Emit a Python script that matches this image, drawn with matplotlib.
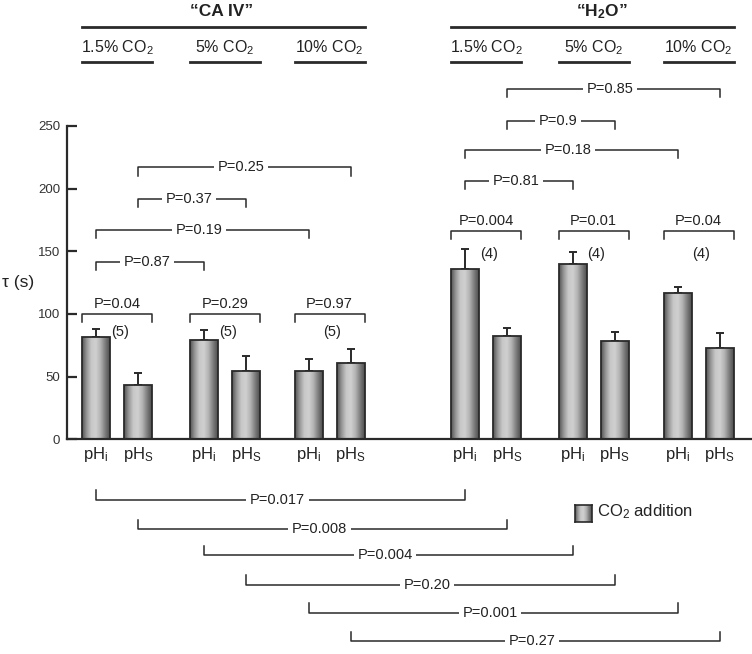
import numpy as np
import matplotlib
matplotlib.use("Agg")
import matplotlib.pyplot as plt
from matplotlib.colors import LinearSegmentedColormap

plt.rcParams['font.family'] = ['Liberation Sans', 'DejaVu Sans']
plt.rcParams['mathtext.fontset'] = 'custom'
plt.rcParams['mathtext.rm'] = 'Liberation Sans'
plt.rcParams['mathtext.it'] = 'Liberation Sans:italic'
plt.rcParams['mathtext.bf'] = 'Liberation Sans:bold'

# ---- data ----
conditions = ["1.5% CO$_\\mathrm{2}$", "5% CO$_\\mathrm{2}$", "10% CO$_\\mathrm{2}$"]
ph_labels = ["pH$_\\mathrm{i}$", "pH$_\\mathrm{S}$"]
groups = ["\u201cCA IV\u201d", "\u201cH$_\\mathbf{2}$O\u201d"]

tau_caiv_phi = [81.5, 79.3, 54.8]
tau_caiv_phs = [43.4, 54.8, 60.7]
err_caiv_phi = [6.8, 8.0, 9.1]
err_caiv_phs = [9.8, 12.0, 11.2]
tau_h2o_phi = [135.8, 139.8, 117.0]
tau_h2o_phs = [82.5, 78.5, 73.0]
err_h2o_phi = [16.2, 10.0, 4.9]
err_h2o_phs = [6.5, 7.5, 12.0]
n_labels = ["(5)", "(4)"]

# pHi vs pHs within each condition
pair_p = ["P=0.04", "P=0.29", "P=0.97", "P=0.004", "P=0.01", "P=0.04"]
pair_level = [100, 100, 100, 166, 166, 166]
# brackets between conditions (bar index a, bar index b, level, label)
upper_brackets = [(0, 2, 141.5, "P=0.87"), (0, 4, 167, "P=0.19"),
                  (1, 3, 192, "P=0.37"), (1, 5, 217, "P=0.25"),
                  (6, 8, 206, "P=0.81"), (6, 10, 231, "P=0.18"),
                  (7, 9, 254, "P=0.9"), (7, 11, 279.3, "P=0.85")]
# CA IV vs H2O brackets below the axis
lower_brackets = [(0, 6, -48.3, "P=0.017"), (1, 7, -71.8, "P=0.008"),
                  (2, 8, -92.6, "P=0.004"), (3, 9, -116, "P=0.20"),
                  (4, 10, -138.4, "P=0.001"), (5, 11, -161.2, "P=0.27")]

# ---- layout ----
W, H = 752, 654
group_x = np.array([117, 225, 329.5, 486, 593.5, 698.5])
half_gap, bar_w = 21, 28
y0_px, ppu = 439.3, 1.2532
line_c = '#2a2a2a'

bar_x = np.ravel(np.column_stack([group_x - half_gap, group_x + half_gap]))
tau = np.ravel(np.column_stack([tau_caiv_phi + tau_h2o_phi, tau_caiv_phs + tau_h2o_phs]))
err = np.ravel(np.column_stack([err_caiv_phi + err_h2o_phi, err_caiv_phs + err_h2o_phs]))


def fy(py):
    return 1 - py / H


fig = plt.figure(figsize=(W / 100, H / 100), dpi=100)
ax = fig.add_axes([0, 0, 1, 1])

cmap = LinearSegmentedColormap.from_list(
    "cyl", ['#555555', '#989898', '#c8c8c8', '#d0d0d0', '#b2b2b2', '#7e7e7e', '#4e4e4e'])
grad = np.linspace(0, 1, 64)[None, :]

# bars with cylinder-like shading
bars = ax.bar(bar_x, tau, width=bar_w, facecolor='none', edgecolor=line_c, linewidth=1.3, zorder=3)
for p in bars.patches:
    im = ax.imshow(grad, extent=[p.get_x(), p.get_x() + p.get_width(), 0, p.get_height()],
                   aspect='auto', cmap=cmap, zorder=2)
    im.set_clip_path(p)

ax.errorbar(bar_x, tau, yerr=[np.zeros_like(err), err], fmt='none', ecolor=line_c,
            elinewidth=1.4, capsize=3, capthick=1.4, zorder=1)

# n labels
for g, gx in enumerate(group_x):
    lvl = 85.6 if g < 3 else 148
    ax.text(bar_x[2 * g] + 24, lvl, n_labels[g // 3], ha='center', va='center', fontsize=10.5, color='#222')

# pair brackets
for g in range(6):
    x1 = bar_x[2 * g] - bar_w / 2
    x2 = bar_x[2 * g + 1] + bar_w / 2
    y = pair_level[g]
    ax.plot([x1, x1, x2, x2], [y - 6.5, y, y, y - 6.5], color=line_c, lw=1.1, clip_on=False)
    ax.text((x1 + x2) / 2, y + 2.5, pair_p[g], ha='center', va='bottom', fontsize=10.5, color='#222')


def span_bracket(a, b, y, label, tick):
    x1, x2 = bar_x[a], bar_x[b]
    ax.plot([x1, x1, x2, x2], [y - tick, y, y, y - tick], color=line_c, lw=1.1, clip_on=False)
    ax.text((x1 + x2) / 2 - 3, y, label, ha='center', va='center', fontsize=10.5, color='#222',
            bbox=dict(facecolor='white', edgecolor='none', pad=2.5))


for a, b, y, label in upper_brackets:
    span_bracket(a, b, y, label, 6.5)
for a, b, y, label in lower_brackets:
    span_bracket(a, b, y, label, -7.5)

# axes
ax.set_xlim(0, W)
ax.set_ylim(-(H - y0_px) / ppu, y0_px / ppu)
ax.spines['top'].set_visible(False)
ax.spines['right'].set_visible(False)
ax.spines['left'].set_position(('data', 67))
ax.spines['left'].set_bounds(0, 250)
ax.spines['left'].set_linewidth(1.6)
ax.spines['left'].set_color(line_c)
ax.spines['bottom'].set_position(('data', 0))
ax.spines['bottom'].set_bounds(67, W)
ax.spines['bottom'].set_linewidth(1.6)
ax.spines['bottom'].set_color(line_c)
ax.set_yticks(np.arange(0, 251, 50))
ax.tick_params(axis='y', direction='in', length=7, width=1.6, color=line_c,
               labelsize=9.5, labelcolor='#333', pad=5)
ax.set_xticks(bar_x, ph_labels * 6)
ax.tick_params(axis='x', length=0, labelsize=12, labelcolor='#222', pad=4)
ax.patch.set_visible(False)

ax.text(18 / W, fy(283), "\u03c4 (s)", transform=ax.transAxes, ha='center', va='center',
        fontsize=12.5, color='#222')

# header
xt = ax.get_xaxis_transform()
for k, (gname, tx) in enumerate(zip(groups, [222, 602])):
    left = bar_x[6 * k] - bar_w / 2
    right = bar_x[6 * k + 5] + bar_w / 2
    ax.plot([left, right], [fy(26.7)] * 2, transform=xt, color=line_c, lw=2, clip_on=False)
    ax.text(tx, fy(12), gname, transform=xt, ha='center', va='center',
            fontsize=12.5, fontweight='bold', color='#222')
for g, gx in enumerate(group_x):
    left = bar_x[2 * g] - bar_w / 2
    right = bar_x[2 * g + 1] + bar_w / 2
    ax.plot([left, right], [fy(61.7)] * 2, transform=xt, color=line_c, lw=2, clip_on=False)
    ax.text(gx, fy(48), conditions[g % 3], transform=xt, ha='center', va='center',
            fontsize=11.5, color='#222')

# legend
lax = fig.add_axes([575 / W, fy(522), 17 / W, 17 / H])
lax.imshow(grad, aspect='auto', cmap=cmap)
lax.set_xticks([])
lax.set_yticks([])
for s in lax.spines.values():
    s.set_linewidth(1.2)
    s.set_color(line_c)
ax.text(597 / W, fy(512), "CO$_\\mathrm{2}$ addition", transform=ax.transAxes,
        ha='left', va='center', fontsize=12, color='#222')

fig.savefig("out.png", dpi=100)
